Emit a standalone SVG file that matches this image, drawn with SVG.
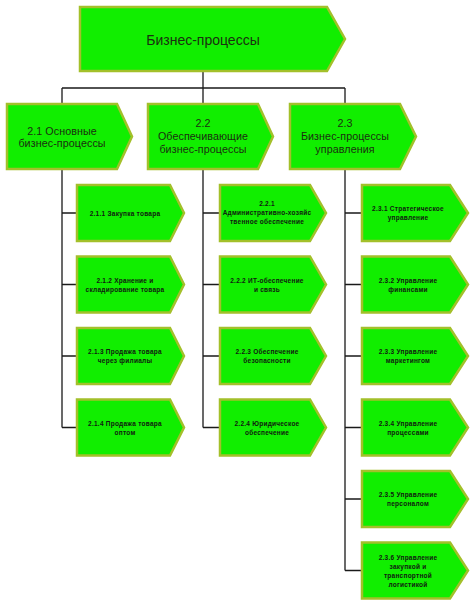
<svg xmlns="http://www.w3.org/2000/svg" width="474" height="604" viewBox="0 0 474 604">
<style>
.n{fill:#11ee00;stroke:#a3c02a;stroke-width:2.5;stroke-linejoin:miter}
.c{fill:none;stroke:#1a1a1a;stroke-width:1.3}
.t1{font-family:"Liberation Sans",Arial,sans-serif;font-size:14px;fill:#1b2e10;text-anchor:middle}
.t2{font-family:"Liberation Sans",Arial,sans-serif;font-size:10.7px;fill:#1b2e10;text-anchor:middle;letter-spacing:0.1px}
.t3{font-family:"Liberation Sans",Arial,sans-serif;font-size:6.5px;font-weight:bold;fill:#102010;text-anchor:middle;letter-spacing:0.25px}
</style>
<rect width="474" height="604" fill="#ffffff"/>
<g id="connectors">
<path class="c" d="M203,71V88M62,88H345M62,88V104M203,88V104M345,88V104"/>
<path class="c" d="M62,169V427.5M62,213H77M62,284.5H77M62,356H77M62,427.5H77"/>
<path class="c" d="M203,169V427.5M203,213H220M203,284.5H220M203,356H220M203,427.5H220"/>
<path class="c" d="M345,169V570.5M345,213H362M345,284.5H362M345,356H362M345,427.5H362M345,499H362M345,570.5H362"/>
</g>
<g id="n0"><polygon class="n" points="80,7 327,7 345,39 327,71 80,71"/><text class="t1" x="203" y="44.5">Бизнес-процессы</text></g>
<g id="n21"><polygon class="n" points="7,104 117,104 132,136.5 117,169 7,169"/><text class="t2" x="62" y="134.5">2.1 Основные</text><text class="t2" x="62" y="147">бизнес-процессы</text></g>
<g id="n22"><polygon class="n" points="148,104 258,104 273,136.5 258,169 148,169"/><text class="t2" x="203" y="127">2.2</text><text class="t2" x="203" y="140">Обеспечивающие</text><text class="t2" x="203" y="153">бизнес-процессы</text></g>
<g id="n23"><polygon class="n" points="290,104 400,104 416,136.5 400,169 290,169"/><text class="t2" x="345" y="127">2.3</text><text class="t2" x="345" y="140">Бизнес-процессы</text><text class="t2" x="345" y="153">управления</text></g>

<g id="n211"><polygon class="n" points="77,185 170,185 184,213 170,241 77,241"/><text class="t3" x="125" y="215.5">2.1.1 Закупка товара</text></g>
<g id="n212"><polygon class="n" points="77,256.5 170,256.5 184,284.5 170,312.5 77,312.5"/><text class="t3" x="125" y="282.5">2.1.2 Хранение и</text><text class="t3" x="125" y="291.5">складирование товара</text></g>
<g id="n213"><polygon class="n" points="77,328 170,328 184,356 170,384 77,384"/><text class="t3" x="125" y="354">2.1.3 Продажа товара</text><text class="t3" x="125" y="363">через филиалы</text></g>
<g id="n214"><polygon class="n" points="77,399.5 170,399.5 184,427.5 170,455.5 77,455.5"/><text class="t3" x="125" y="425.5">2.1.4 Продажа товара</text><text class="t3" x="125" y="434.5">оптом</text></g>

<g id="n221"><polygon class="n" points="220,185 310,185 326,213 310,241 220,241"/><text class="t3" x="267" y="206">2.2.1</text><text class="t3" x="267" y="215">Административно-хозяйс</text><text class="t3" x="267" y="224">твенное обеспечение</text></g>
<g id="n222"><polygon class="n" points="220,256.5 310,256.5 326,284.5 310,312.5 220,312.5"/><text class="t3" x="267" y="282.5">2.2.2 ИТ-обеспечение</text><text class="t3" x="267" y="291.5">и связь</text></g>
<g id="n223"><polygon class="n" points="220,328 310,328 326,356 310,384 220,384"/><text class="t3" x="267" y="354">2.2.3 Обеспечение</text><text class="t3" x="267" y="363">безопасности</text></g>
<g id="n224"><polygon class="n" points="220,399.5 310,399.5 326,427.5 310,455.5 220,455.5"/><text class="t3" x="267" y="425.5">2.2.4 Юридическое</text><text class="t3" x="267" y="434.5">обеспечение</text></g>

<g id="n231"><polygon class="n" points="362,185 450,185 468,213 450,241 362,241"/><text class="t3" x="408" y="211">2.3.1 Стратегическое</text><text class="t3" x="408" y="220">управление</text></g>
<g id="n232"><polygon class="n" points="362,256.5 450,256.5 468,284.5 450,312.5 362,312.5"/><text class="t3" x="408" y="282.5">2.3.2 Управление</text><text class="t3" x="408" y="291.5">финансами</text></g>
<g id="n233"><polygon class="n" points="362,328 450,328 468,356 450,384 362,384"/><text class="t3" x="408" y="354">2.3.3 Управление</text><text class="t3" x="408" y="363">маркетингом</text></g>
<g id="n234"><polygon class="n" points="362,399.5 450,399.5 468,427.5 450,455.5 362,455.5"/><text class="t3" x="408" y="425.5">2.3.4 Управление</text><text class="t3" x="408" y="434.5">процессами</text></g>
<g id="n235"><polygon class="n" points="362,471 450,471 468,499 450,527 362,527"/><text class="t3" x="408" y="497">2.3.5 Управление</text><text class="t3" x="408" y="506">персоналом</text></g>
<g id="n236"><polygon class="n" points="362,542.5 450,542.5 468,570.5 450,598.5 362,598.5"/><text class="t3" x="408" y="560">2.3.6 Управление</text><text class="t3" x="408" y="569">закупкой и</text><text class="t3" x="408" y="578">транспортной</text><text class="t3" x="408" y="587">логистикой</text></g>
</svg>
